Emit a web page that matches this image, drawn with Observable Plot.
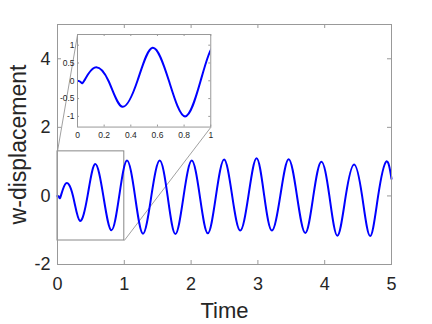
<!DOCTYPE html>
<html>
<head>
<meta charset="utf-8">
<script src="https://cdn.jsdelivr.net/npm/d3@7"></script>
<script src="https://cdn.jsdelivr.net/npm/@observablehq/plot@0.6"></script>
<style>
  html, body { margin: 0; padding: 0; background: white; }
  #wrap { position: relative; width: 432px; height: 324px; overflow: hidden; }
  #wrap svg { position: absolute; }
</style>
</head>
<body>
<div id="wrap"></div>
<script>
// ---- data ----
const time = [0, 0.012, 0.028, 0.05, 0.128, 0.232, 0.336, 0.45, 0.564, 0.686, 0.807, 0.924,
  1.04, 1.16, 1.28, 1.405, 1.53, 1.648, 1.765, 1.888, 2.01, 2.13, 2.25, 2.372, 2.495, 2.615,
  2.735, 2.858, 2.98, 3.095, 3.21, 3.335, 3.46, 3.585, 3.71, 3.83, 3.95, 4.07, 4.19, 4.315,
  4.44, 4.56, 4.68, 4.80, 4.92, 5.0];
const wDisp = [0, -0.01, -0.05, 0, 0.37, 0, -0.73, 0, 0.93, 0, -1.0, 0,
  1.03, 0, -1.10, 0, 1.03, 0, -1.11, 0, 1.03, 0, -1.09, 0, 1.06, 0,
  -1.01, 0, 1.10, 0, -1.01, 0, 1.07, 0, -1.08, 0, 1.0, 0, -1.16, 0,
  0.92, 0, -1.17, 0, 1.0, 0.5];
const xTicks = [0, 1, 2, 3, 4, 5];
const yTicks = [-2, 0, 2, 4];
const xDomain = [0, 5];
const yDomain = [-2, 5];
const insetXTicks = [0, 0.2, 0.4, 0.6, 0.8, 1];
const insetYTicks = [-1, -0.5, 0, 0.5, 1];
const zoomX = [0, 1];
const zoomY = [-1.3, 1.3];
const insetAtX = [0.3, 2.295];   // inset frame placement, in main-axis units
const insetAtY = [2.0, 4.7];
const xLabel = "Time";
const yLabel = "w-displacement";

const data = time.map((t, i) => ({t, w: wDisp[i]}));

const W = 432, H = 324;
const mL = 57, mR = 41, mT = 24, mB = 60;
const innerW = W - mL - mR, innerH = H - mT - mB;
const font = "'Liberation Sans', Arial, Helvetica, sans-serif";
const frameColor = "#999";
const textColor = "#262626";
const fmt = d => String(d);

const main = Plot.plot({
  width: W, height: H,
  marginLeft: mL, marginRight: mR, marginTop: mT, marginBottom: mB,
  x: {domain: xDomain, label: null},
  y: {domain: yDomain, label: null},
  style: {fontFamily: font, color: textColor, background: "white", overflow: "visible"},
  marks: [
    // inward ticks on all four sides
    Plot.ruleX(xTicks, {stroke: frameColor, insetTop: innerH - 4}),
    Plot.ruleX(xTicks, {stroke: frameColor, insetBottom: innerH - 4}),
    Plot.ruleY(yTicks, {stroke: frameColor, insetRight: innerW - 4}),
    Plot.ruleY(yTicks, {stroke: frameColor, insetLeft: innerW - 4}),
    Plot.axisX(xTicks, {tickSize: 0, tickPadding: 13, fontSize: 18, tickFormat: fmt, label: null, fill: textColor}),
    Plot.axisY(yTicks, {tickSize: 0, tickPadding: 7, fontSize: 18, tickFormat: fmt, label: null, fill: textColor}),
    // zoom rectangle and connectors
    Plot.rect([{x1: zoomX[0], x2: zoomX[1], y1: zoomY[0], y2: zoomY[1]}],
      {x1: "x1", x2: "x2", y1: "y1", y2: "y2", fill: "none", stroke: "#888", strokeWidth: 1}),
    Plot.link([
      {x1: zoomX[0], y1: zoomY[1], x2: insetAtX[0], y2: insetAtY[1]},
      {x1: zoomX[1], y1: zoomY[0], x2: insetAtX[1], y2: insetAtY[0]}
    ], {x1: "x1", y1: "y1", x2: "x2", y2: "y2", stroke: "#777", strokeWidth: 0.7}),
    Plot.line(data, {x: "t", y: "w", stroke: "#0000ff", strokeWidth: 2, curve: "natural"}),
    Plot.frame({stroke: frameColor}),
    Plot.text([xLabel], {frameAnchor: "bottom", dy: 53, lineAnchor: "bottom", textAnchor: "middle", fontSize: 22, fill: textColor}),
    Plot.text([yLabel], {frameAnchor: "left", dx: -32, rotate: -90, lineAnchor: "bottom", textAnchor: "middle", fontSize: 23, fill: textColor})
  ]
});
main.style.left = "0px";
main.style.top = "0px";
const wrap = document.getElementById("wrap");
wrap.appendChild(main);

// ---- inset ----
const sx = main.scale("x"), sy = main.scale("y");
const fx0 = sx.apply(insetAtX[0]), fx1 = sx.apply(insetAtX[1]);
const fy0 = sy.apply(insetAtY[1]), fy1 = sy.apply(insetAtY[0]);
const fw = fx1 - fx0, fh = fy1 - fy0;
const iL = 26, iR = 8, iT = 4, iB = 16;

const inset = Plot.plot({
  width: fw + iL + iR, height: fh + iT + iB,
  marginLeft: iL, marginRight: iR, marginTop: iT, marginBottom: iB,
  x: {domain: zoomX, label: null},
  y: {domain: zoomY, label: null},
  style: {fontFamily: font, color: textColor, background: "transparent", overflow: "visible"},
  marks: [
    Plot.frame({fill: "white", stroke: "none"}),
    Plot.ruleX(insetXTicks, {stroke: frameColor, insetTop: fh - 2}),
    Plot.ruleX(insetXTicks, {stroke: frameColor, insetBottom: fh - 2}),
    Plot.ruleY(insetYTicks, {stroke: frameColor, insetRight: fw - 2}),
    Plot.ruleY(insetYTicks, {stroke: frameColor, insetLeft: fw - 2}),
    Plot.axisX(insetXTicks, {tickSize: 0, tickPadding: 5, fontSize: 8.5, tickFormat: fmt, label: null, fill: textColor}),
    Plot.axisY(insetYTicks, {tickSize: 0, tickPadding: 3, fontSize: 8.5, tickFormat: fmt, label: null, fill: textColor}),
    Plot.line(data, {x: "t", y: "w", stroke: "#0000ff", strokeWidth: 2, curve: "natural", clip: true}),
    Plot.frame({stroke: frameColor})
  ]
});
inset.style.left = (fx0 - iL) + "px";
inset.style.top = (fy0 - iT) + "px";
wrap.appendChild(inset);
</script>
</body>
</html>
